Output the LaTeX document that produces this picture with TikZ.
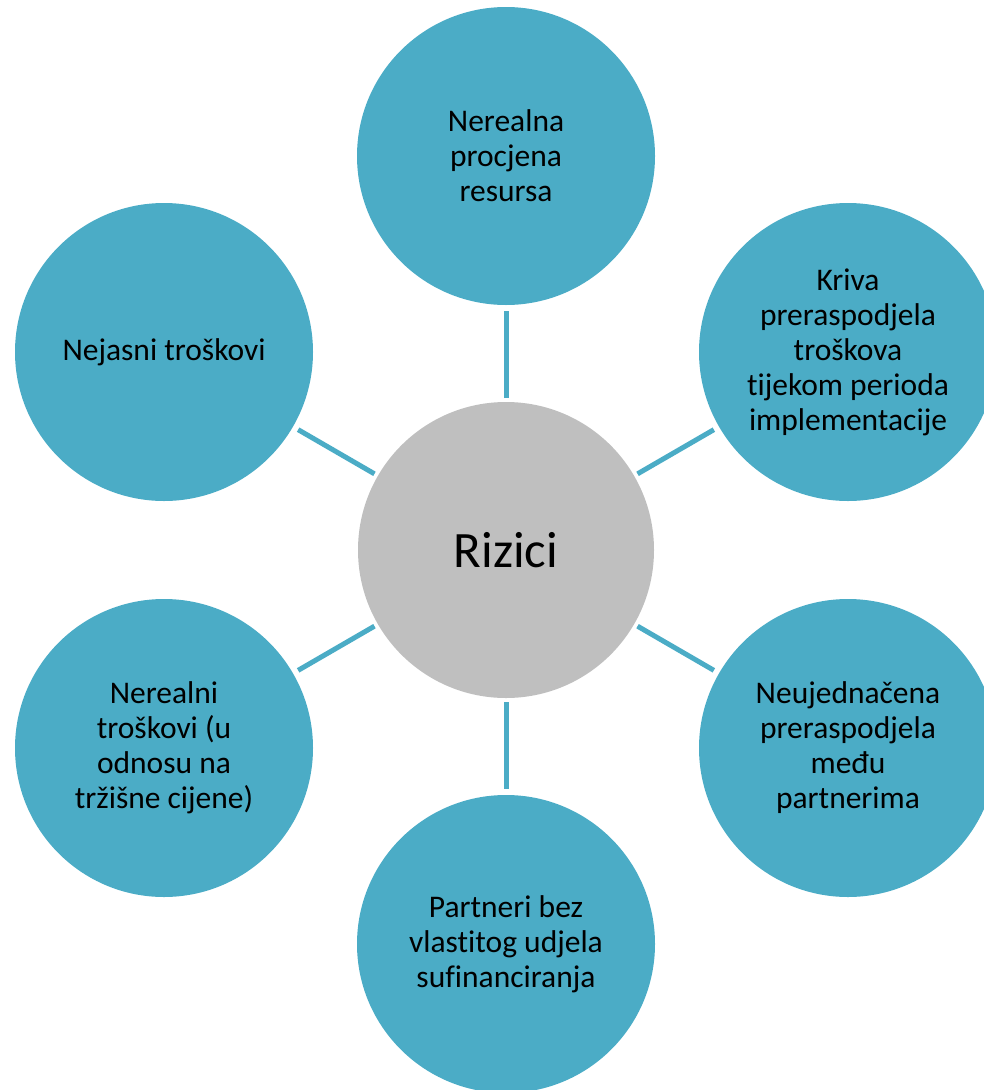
\documentclass[tikz,border=0pt]{standalone}
\usepackage{fontspec}
\setmainfont{Carlito}[Ligatures=NoCommon]
\definecolor{teal}{HTML}{4BACC6}
\definecolor{centergray}{HTML}{BFBFBF}
\begin{document}
\begin{tikzpicture}[x=1pt,y=-1pt,
  sat/.style={circle,fill=teal,minimum size=298pt,inner sep=0pt,outer sep=6pt,
    align=center,font=\fontsize{31.5}{35}\selectfont,text=black},
  hub/.style={circle,fill=centergray,minimum size=296pt,inner sep=0pt,outer sep=4pt,
    font=\fontsize{51}{60}\selectfont,text=black},
  link/.style={draw=teal,line width=5pt}]
\useasboundingbox (0,0) rectangle (984,1090);
\clip (0,0) rectangle (984,1090);
\node[hub] (c) at (506,550) {Rizici};
\node[sat] (t) at (506,156) {Nerealna\\procjena\\resursa};
\node[sat] (tr) at (848,352) {Kriva\\preraspodjela\\troškova\\tijekom perioda\\implementacije};
\node[sat] (br) at (848,748) {Neujednačena\\preraspodjela\\među\\partnerima};
\node[sat] (b) at (506,944) {Partneri bez\\vlastitog udjela\\sufinanciranja};
\node[sat] (bl) at (164,748) {Nerealni\\troškovi (u\\odnosu na\\tržišne cijene)};
\node[sat] (tl) at (164,352) {Nejasni troškovi};
\draw[link] (c) -- (t);
\draw[link] (c) -- (tr);
\draw[link] (c) -- (br);
\draw[link] (c) -- (b);
\draw[link] (c) -- (bl);
\draw[link] (c) -- (tl);
\end{tikzpicture}
\end{document}
